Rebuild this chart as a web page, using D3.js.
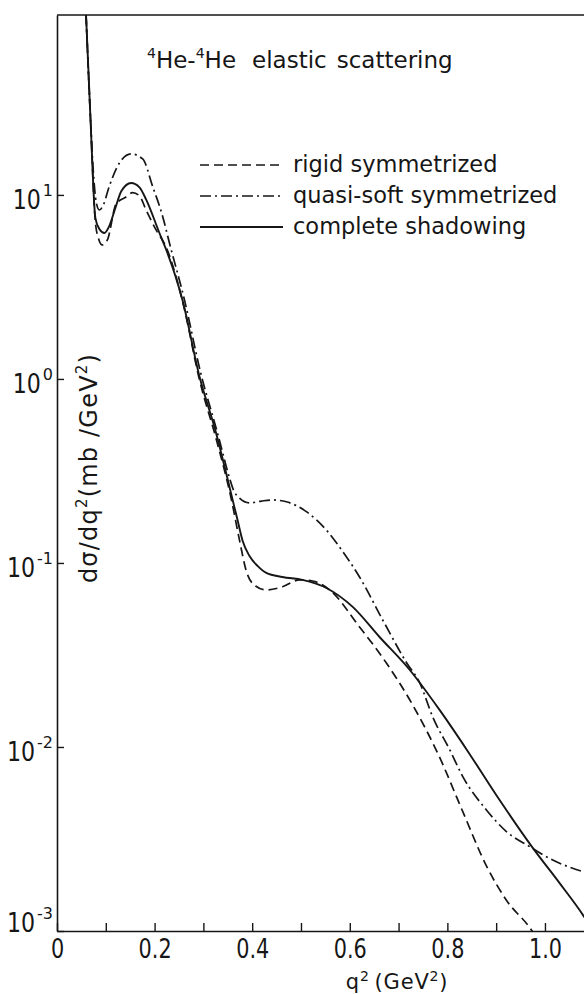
<!DOCTYPE html>
<html>
<head>
<meta charset="utf-8">
<script src="https://cdn.jsdelivr.net/npm/d3@7"></script>
<style>
  html, body { margin: 0; padding: 0; background: #fff; }
  svg { display: block; }
  text { font-family: "DejaVu Sans", "Liberation Sans", sans-serif; fill: #161616; }
</style>
</head>
<body>
<svg id="chart" width="584" height="994"></svg>
<script>
// q^2 grid (GeV^2) and dσ/dq^2 (mb/GeV^2) for each model curve

const q2Rigid = [0.0595, 0.0683, 0.0786, 0.0848, 0.0928, 0.1032, 0.1211, 0.1416, 0.155, 0.169,
  0.1826, 0.2031, 0.2236, 0.2591, 0.292, 0.3268, 0.3576, 0.374, 0.3885, 0.4069, 0.4294, 0.462,
  0.4971, 0.524, 0.559, 0.620, 0.675, 0.729, 0.784, 0.8316, 0.880, 0.921, 0.9725, 0.99];
const rigid = [95.1, 27.2, 7.13, 5.83, 5.35, 5.69, 8.93, 9.75, 10.3, 9.88,
  8.28, 6.45, 5.21, 2.52, 0.988, 0.466, 0.220, 0.133, 0.0893, 0.0750, 0.0713, 0.0742,
  0.0809, 0.0798, 0.0713, 0.0449, 0.0286, 0.0169, 0.0088, 0.00445, 0.00226, 0.00147, 0.00101, 0.00085];

const q2QuasiSoft = [0.0595, 0.0683, 0.0745, 0.0806, 0.0868, 0.095, 0.107, 0.1278, 0.1518, 0.1756,
  0.1961, 0.2167, 0.2304, 0.2612, 0.294, 0.3289, 0.3535, 0.3617, 0.374, 0.3947, 0.419, 0.4417,
  0.470, 0.511, 0.552, 0.585, 0.620, 0.6675, 0.7167, 0.7434, 0.770, 0.805, 0.8316, 0.880,
  0.921, 0.969, 1.016, 1.078, 1.103];
const quasiSoft = [95.1, 27.2, 13.3, 9.06, 8.28, 8.83, 11.1, 14.9, 16.7, 15.7,
  11.1, 7.62, 5.48, 2.69, 1.09, 0.509, 0.290, 0.249, 0.225, 0.212, 0.217, 0.220,
  0.215, 0.190, 0.151, 0.116, 0.0839, 0.0490, 0.0286, 0.0223, 0.01455, 0.00964, 0.00690, 0.00455,
  0.00347, 0.00287, 0.00243, 0.00210, 0.00201];

const q2Shadow = [0.0595, 0.0683, 0.0786, 0.0868, 0.097, 0.1073, 0.1196, 0.132, 0.152, 0.169,
  0.183, 0.2099, 0.224, 0.257, 0.292, 0.326, 0.3535, 0.370, 0.380, 0.3945, 0.411, 0.429,
  0.462, 0.503, 0.552, 0.606, 0.661, 0.723, 0.784, 0.840, 0.907, 0.975, 1.030, 1.078, 1.102];
const shadow = [95.1, 27.2, 7.50, 6.53, 6.21, 6.79, 8.49, 10.5, 11.6, 11.0,
  9.40, 6.21, 5.02, 2.69, 1.03, 0.509, 0.259, 0.171, 0.133, 0.109, 0.0964, 0.0883,
  0.0839, 0.0809, 0.0731, 0.0577, 0.0396, 0.0262, 0.0159, 0.00964, 0.00515, 0.00283, 0.00182, 0.00122, 0.00097];

const seriesNames = ["rigid symmetrized", "quasi-soft symmetrized", "complete shadowing"];
const seriesDash = ["9,5", "11,4,2,4", null];

const xTicks = [0, 0.1, 0.2, 0.3, 0.4, 0.5, 0.6, 0.7, 0.8, 0.9, 1.0];
const xTickLabels = ["0", "", "0.2", "", "0.4", "", "0.6", "", "0.8", "", "1.0"];
const yTicks = [1e1, 1e0, 1e-1, 1e-2, 1e-3];
const yTickExponents = ["1", "0", "-1", "-2", "-3"];

const svg = d3.select("#chart");
const x = d3.scaleLinear().domain([0, 1.08]).range([57, 584]);
const y = d3.scaleLog().domain([1e-3, 95]).range([931, 15]);

const ink = "#161616";

// squeeze numeric labels into tall, narrow figures
function narrow(sel, k) {
  sel.each(function () {
    const len = this.getComputedTextLength();
    if (len > 0) {
      d3.select(this).attr("textLength", len * k).attr("lengthAdjust", "spacingAndGlyphs");
    }
  });
}

// frame: top edge
svg.append("line")
  .attr("x1", x(0)).attr("x2", x(1.08))
  .attr("y1", y(95)).attr("y2", y(95))
  .attr("stroke", ink).attr("stroke-width", 1.5);

// x axis with inward ticks
const xAxis = svg.append("g")
  .attr("transform", `translate(0,${y(1e-3)})`)
  .call(d3.axisBottom(x).tickValues(xTicks)
    .tickSizeInner(-8).tickSizeOuter(0).tickPadding(9)
    .tickFormat((d, i) => xTickLabels[i]));
xAxis.select(".domain").attr("stroke", ink).attr("stroke-width", 1.6);
xAxis.selectAll(".tick line").attr("stroke", ink).attr("stroke-width", 1.4);
const xLabels = xAxis.selectAll(".tick text")
  .attr("font-size", 26).attr("font-family", "DejaVu Sans").attr("fill", ink);
narrow(xLabels, 0.8);

// y axis with inward decade ticks
const yAxis = svg.append("g")
  .attr("transform", `translate(${x(0)},0)`)
  .call(d3.axisRight(y).tickValues(yTicks).tickSizeInner(7).tickSizeOuter(0).tickFormat(""));
yAxis.select(".domain").attr("stroke", ink).attr("stroke-width", 1.6);
yAxis.selectAll(".tick line").attr("stroke", ink).attr("stroke-width", 1.4);

// decade labels 10^n: exponent first, condensed base placed just left of it
yTicks.forEach((v, i) => {
  const base = Math.min(y(v) + 14, y(1e-3) + 1);
  const expo = svg.append("text")
    .attr("x", x(0) - 4)
    .attr("y", base - 13)
    .attr("text-anchor", "end")
    .attr("font-size", 16)
    .text(yTickExponents[i]);
  const expoWidth = expo.node().getComputedTextLength();
  svg.append("text")
    .attr("transform", `translate(${x(0) - 4 - expoWidth - 2},${base}) scale(0.82,1)`)
    .attr("text-anchor", "end")
    .attr("font-size", 27)
    .text("10");
});

// curves
svg.append("clipPath").attr("id", "plotClip")
  .append("rect")
  .attr("x", x(0)).attr("y", y(95))
  .attr("width", x(1.08) - x(0)).attr("height", y(1e-3) - y(95));

const curves = [
  q2Rigid.map((q, i) => ({ q, v: rigid[i] })),
  q2QuasiSoft.map((q, i) => ({ q, v: quasiSoft[i] })),
  q2Shadow.map((q, i) => ({ q, v: shadow[i] }))
];

const line = d3.line().x(d => x(d.q)).y(d => y(d.v)).curve(d3.curveMonotoneX);

const plot = svg.append("g").attr("clip-path", "url(#plotClip)");
curves.forEach((c, i) => {
  plot.append("path")
    .attr("d", line(c))
    .attr("fill", "none")
    .attr("stroke", ink)
    .attr("stroke-width", i === 2 ? 1.9 : 1.7)
    .attr("stroke-dasharray", seriesDash[i]);
});

// title
const title = svg.append("text").attr("x", 147).attr("y", 68).attr("font-size", 23);
title.append("tspan").attr("dy", -10).attr("font-size", 14).text("4");
title.append("tspan").attr("dy", 10).text("He-");
title.append("tspan").attr("dy", -10).attr("font-size", 14).text("4");
title.append("tspan").attr("dy", 10).text("He");
title.append("tspan").attr("dx", 16).text("elastic");
title.append("tspan").attr("dx", 10).text("scattering");

// legend
const legendY = [165, 196, 227];
seriesNames.forEach((name, i) => {
  svg.append("line")
    .attr("x1", 200).attr("x2", 283)
    .attr("y1", legendY[i]).attr("y2", legendY[i])
    .attr("stroke", ink)
    .attr("stroke-width", i === 2 ? 1.9 : 1.7)
    .attr("stroke-dasharray", seriesDash[i]);
  svg.append("text")
    .attr("x", 293).attr("y", legendY[i] + 7)
    .attr("font-size", 22.5)
    .text(name);
});

// axis titles
const yTitle = svg.append("text")
  .attr("transform", `translate(97,468) rotate(-90)`)
  .attr("text-anchor", "middle")
  .attr("font-size", 24)
  .attr("letter-spacing", 1.2);
yTitle.append("tspan").text("dσ/dq");
yTitle.append("tspan").attr("dy", -10).attr("font-size", 15).text("2");
yTitle.append("tspan").attr("dy", 10).text("(mb /GeV");
yTitle.append("tspan").attr("dy", -10).attr("font-size", 15).text("2");
yTitle.append("tspan").attr("dy", 10).text(")");

const xTitle = svg.append("text")
  .attr("x", 397).attr("y", 989)
  .attr("text-anchor", "middle")
  .attr("font-size", 21)
  .attr("letter-spacing", 0.8);
xTitle.append("tspan").text("q");
xTitle.append("tspan").attr("dy", -8).attr("font-size", 14).text("2");
xTitle.append("tspan").attr("dy", 8).attr("dx", 5).text("(GeV");
xTitle.append("tspan").attr("dy", -8).attr("font-size", 14).text("2");
xTitle.append("tspan").attr("dy", 8).text(")");
</script>
</body>
</html>
